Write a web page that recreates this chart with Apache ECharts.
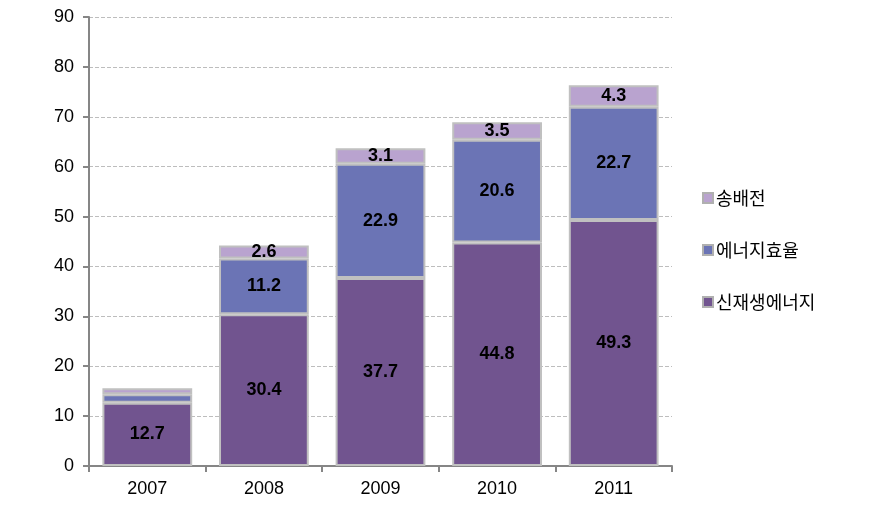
<!DOCTYPE html>
<html><head><meta charset="utf-8">
<script src="https://cdn.jsdelivr.net/npm/echarts@6/dist/echarts.min.js"></script>
<style>html,body{margin:0;padding:0;background:#fff}#c{width:895px;height:518px}</style>
</head><body><div id="c"></div>
<script>
const categories = ['2007','2008','2009','2010','2011'];
const renewable = [12.7, 30.4, 37.7, 44.8, 49.3];
const efficiency = [1.7, 11.2, 22.9, 20.6, 22.7];
const transmission = [1.2, 2.6, 3.1, 3.5, 4.3];
const seriesNames = ['신재생에너지','에너지효율','송배전'];
const yTicks = {min:0, max:90, interval:10};
const colors = ['#71548F','#6B74B5','#B9A3CF'];
const showLabel = [[true,true,true,true,true],[false,true,true,true,true],[false,true,true,true,true]];

const chart = echarts.init(document.getElementById('c'));
const datasets = [renewable, efficiency, transmission];
const series = datasets.map((d,i)=>({
  name: seriesNames[i], type:'bar', stack:'s', barWidth:'77%',
  itemStyle:{color:colors[i], borderColor:'#C0C0C0', borderWidth:2},
  data: d.map((v,j)=>({value:v, label:{show:showLabel[i][j]}})),
  label:{position:'inside', color:'#000', fontWeight:'bold', fontSize:18, fontFamily:'Liberation Sans, Arial',
    formatter:p=>p.value.toFixed(1)}
}));
chart.setOption({
  animation:false,
  grid:{left:89, right:223, top:17, bottom:52},
  legend:{
    orient:'vertical', left:697, top:184, itemGap:34, itemWidth:10, itemHeight:10,
    data: seriesNames.slice().reverse(),
    icon:'rect',
    itemStyle:{borderColor:'#B0B0B0', borderWidth:2},
    textStyle:{fontSize:18, fontFamily:'Noto Sans CJK KR', color:'#000', padding:[0,0,0,-2]}
  },
  xAxis:{type:'category', data:categories,
    axisLine:{lineStyle:{color:'#868686', width:2}},
    axisTick:{show:true, length:6, lineStyle:{color:'#868686', width:2}},
    axisLabel:{color:'#000', fontSize:18, fontFamily:'Liberation Sans, Arial', margin:14}},
  yAxis:{type:'value', min:yTicks.min, max:yTicks.max, interval:yTicks.interval,
    axisLine:{show:true, lineStyle:{color:'#868686', width:2}},
    axisTick:{show:true, inside:false, length:6, lineStyle:{color:'#868686', width:2}},
    splitLine:{lineStyle:{color:'#BDBDBD', type:[4,2], width:1}},
    axisLabel:{color:'#000', fontSize:18, fontFamily:'Liberation Sans, Arial', margin:15}},
  series: series
});
</script></body></html>
